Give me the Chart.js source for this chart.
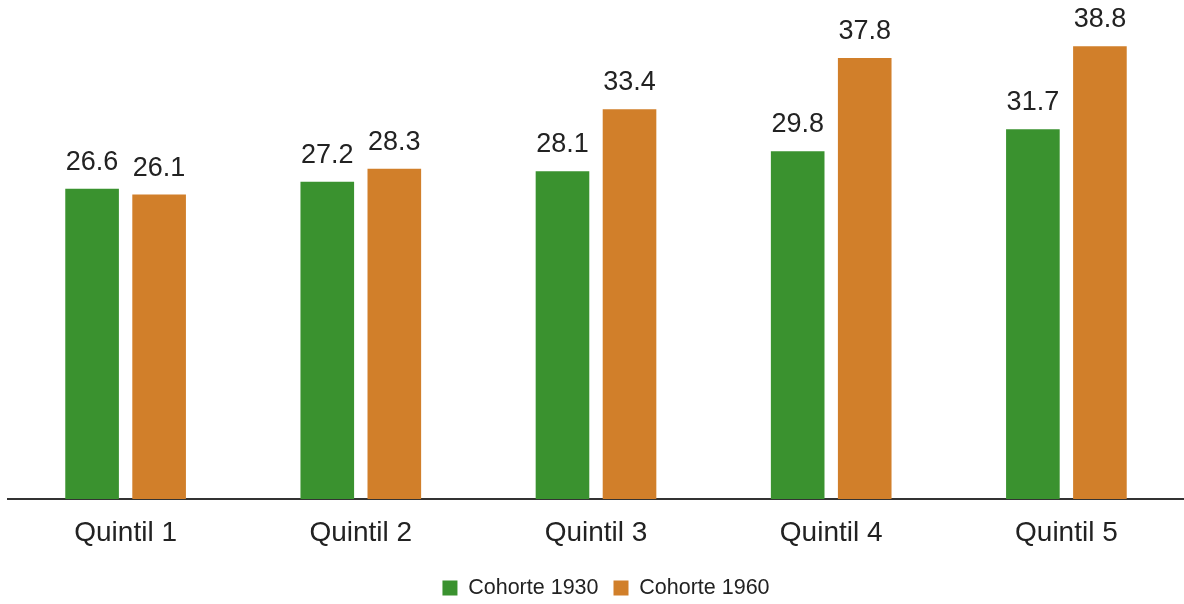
<!DOCTYPE html>
<html>
<head>
<meta charset="utf-8">
<script src="https://cdn.jsdelivr.net/npm/chart.js@4.4.0/dist/chart.umd.min.js"></script>
<style>
  html, body { margin: 0; padding: 0; background: #fff; }
  #wrap { width: 1184px; height: 604px; }
</style>
</head>
<body>
<div id="wrap"><canvas id="myChart"></canvas></div>
<script>
const categorias = ['Quintil 1', 'Quintil 2', 'Quintil 3', 'Quintil 4', 'Quintil 5'];
const cohorte1930 = [26.6, 27.2, 28.1, 29.8, 31.7];
const cohorte1960 = [26.1, 28.3, 33.4, 37.8, 38.8];

// dibuja el valor encima de cada barra
const etiquetasBarras = {
  id: 'etiquetasBarras',
  afterDatasetsDraw(chart) {
    const ctx = chart.ctx;
    ctx.save();
    ctx.font = '27px "Liberation Sans", Arial, sans-serif';
    ctx.fillStyle = '#222';
    ctx.textAlign = 'center';
    ctx.textBaseline = 'alphabetic';
    chart.data.datasets.forEach((ds, i) => {
      chart.getDatasetMeta(i).data.forEach((bar, j) => {
        ctx.fillText(ds.data[j].toFixed(1), bar.x, bar.y - 19);
      });
    });
    ctx.restore();
  }
};

// corre un poco la leyenda a la derecha, como en el original
const moverLeyenda = {
  id: 'moverLeyenda',
  afterLayout(chart) {
    if (chart.legend) {
      chart.legend.left += 10;
      chart.legend.right += 10;
    }
  }
};

const ctx = document.querySelector('#myChart').getContext('2d');
const myChart = new Chart(ctx, {
  type: 'bar',
  data: {
    labels: categorias,
    datasets: [
      { label: 'Cohorte 1930', data: cohorte1930, backgroundColor: '#3a922f' },
      { label: 'Cohorte 1960', data: cohorte1960, backgroundColor: '#d17f2a' }
    ]
  },
  options: {
    responsive: true,
    maintainAspectRatio: false,
    animation: false,
    layout: { padding: { left: 8, right: 0, top: 9, bottom: -4.75 } },
    datasets: {
      bar: { categoryPercentage: 0.57, barPercentage: 0.8 }
    },
    scales: {
      x: {
        grid: { display: false, drawTicks: false },
        border: { display: true, color: '#333', width: 2 },
        ticks: {
          color: '#222',
          padding: 17,
          font: { family: '"Liberation Sans", Arial, sans-serif', size: 28 }
        },
        afterFit(scale) { scale.height = 63.25; }
      },
      y: {
        display: false,
        min: 0,
        max: 42
      }
    },
    plugins: {
      tooltip: { enabled: false },
      legend: {
        position: 'bottom',
        labels: {
          boxWidth: 15,
          boxHeight: 15,
          padding: 15,
          color: '#222',
          font: { family: '"Liberation Sans", Arial, sans-serif', size: 21.5 }
        }
      }
    }
  },
  plugins: [etiquetasBarras, moverLeyenda]
});
</script>
</body>
</html>
